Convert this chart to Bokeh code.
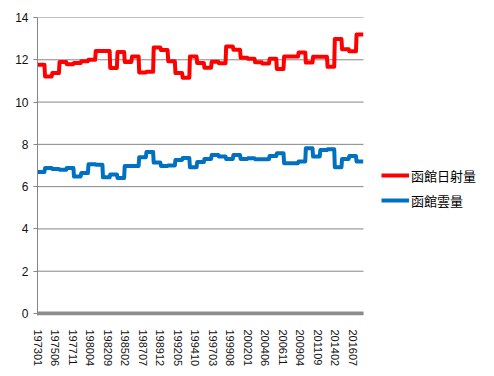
from bokeh.plotting import figure
from bokeh.models import Range1d, FixedTicker, Legend, LegendItem
from bokeh.embed import file_html
from bokeh.resources import INLINE

# ---- data (annual values, plotted as monthly series 1973-01 .. 2017-12) ----
years = list(range(1973, 2018))
solar = [11.77, 11.21, 11.37, 11.90, 11.79, 11.85, 11.93, 12.00, 12.42, 12.42,
         11.61, 12.37, 11.90, 12.15, 11.40, 11.43, 12.58, 12.46, 11.93, 11.37,
         11.15, 12.15, 11.85, 11.62, 11.91, 11.84, 12.63, 12.48, 12.10, 12.05,
         11.88, 11.82, 12.05, 11.57, 12.15, 12.15, 12.34, 11.87, 12.14, 12.14,
         11.67, 12.98, 12.50, 12.40, 13.20]
cloud = [6.69, 6.88, 6.83, 6.80, 6.88, 6.48, 6.64, 7.06, 7.04, 6.44,
         6.58, 6.41, 6.98, 6.98, 7.39, 7.64, 7.14, 6.98, 7.00, 7.26,
         7.35, 6.92, 7.16, 7.31, 7.50, 7.42, 7.31, 7.50, 7.31, 7.34,
         7.30, 7.30, 7.45, 7.58, 7.11, 7.11, 7.19, 7.81, 7.42, 7.73,
         7.77, 6.92, 7.31, 7.45, 7.19]
series_names = ["函館日射量", "函館雲量"]
tick_labels = ["197301", "197506", "197711", "198004", "198209", "198502",
               "198707", "198912", "199205", "199410", "199703", "199908",
               "200201", "200406", "200611", "200904", "201109", "201402",
               "201607"]
y_ticks = [0, 2, 4, 6, 8, 10, 12, 14]


def month_index(lbl):
    return (int(lbl[:4]) - years[0]) * 12 + int(lbl[4:]) - 1


def monthly_path(vals):
    xs, ys = [], []
    for k, v in enumerate(vals):
        xs += [k * 12, k * 12 + 11]
        ys += [v, v]
    return xs, ys


n_months = len(years) * 12
tick_pos = [month_index(t) for t in tick_labels]

# layout (pixels inside the figure)
W, H = 486, 372
left_px, top_px = 37, 17
plot_w, plot_h = 326, 296          # data area of the Excel plot
below_zero_px = 2
frame_w = W - left_px
x_end = -0.5 + n_months * frame_w / plot_w
y_start = -below_zero_px * y_ticks[-1] / plot_h

p = figure(width=W, height=H, output_backend="svg", toolbar_location=None,
           x_range=Range1d(-0.5, x_end), y_range=Range1d(y_start, y_ticks[-1]),
           min_border_left=left_px, min_border_right=0, min_border_top=top_px,
           min_border_bottom=H - top_px - plot_h - below_zero_px)
p.outline_line_color = None
p.background_fill_color = "white"
p.border_fill_color = "white"
p.xgrid.visible = False
p.ygrid.visible = False

# horizontal gridlines limited to the data area
p.segment(x0=[-0.5] * len(y_ticks), x1=[n_months - 0.5] * len(y_ticks),
          y0=y_ticks, y1=y_ticks, line_color="#868686", line_width=1)
# thick category axis line at 0
p.segment(x0=[-0.5], x1=[n_months - 0.5], y0=[y_ticks[0]], y1=[y_ticks[0]],
          line_color="#8c8c8c", line_width=4)

p.yaxis.ticker = FixedTicker(ticks=y_ticks)
p.yaxis.axis_line_color = "#868686"
p.yaxis.major_tick_line_color = "#868686"
p.yaxis.major_tick_out = 4
p.yaxis.major_tick_in = 0
p.yaxis.minor_tick_line_color = None
p.yaxis.major_label_standoff = 5
p.yaxis.major_label_text_font = "Liberation Sans"
p.yaxis.major_label_text_font_size = "12px"
p.yaxis.major_label_text_color = "#111111"

p.xaxis.ticker = FixedTicker(ticks=tick_pos)
p.xaxis.major_label_overrides = {tp: lbl for tp, lbl in zip(tick_pos, tick_labels)}
p.xaxis.major_label_orientation = "vertical"
p.xaxis.axis_line_color = None
p.xaxis.major_tick_line_color = None
p.xaxis.minor_tick_line_color = None
p.xaxis.major_label_standoff = 8
p.xaxis.major_label_text_font = "Liberation Sans"
p.xaxis.major_label_text_font_size = "11px"
p.xaxis.major_label_text_color = "#111111"

xs1, ys1 = monthly_path(solar)
xs2, ys2 = monthly_path(cloud)
r1 = p.line(xs1, ys1, line_color="#FF0000", line_width=4, line_join="round")
r2 = p.line(xs2, ys2, line_color="#0070C0", line_width=4, line_join="round")

legend = Legend(items=[LegendItem(label=series_names[0], renderers=[r1]),
                       LegendItem(label=series_names[1], renderers=[r2])],
                location=(344, 105), orientation="vertical",
                glyph_width=28, glyph_height=20, label_height=20, spacing=5,
                padding=0, margin=0, border_line_color=None,
                background_fill_alpha=0, label_standoff=2,
                label_text_font="Noto Sans CJK JP", label_text_font_size="13px",
                label_text_color="#000000")
p.add_layout(legend)

open("out.html", "w").write(file_html(p, INLINE))
